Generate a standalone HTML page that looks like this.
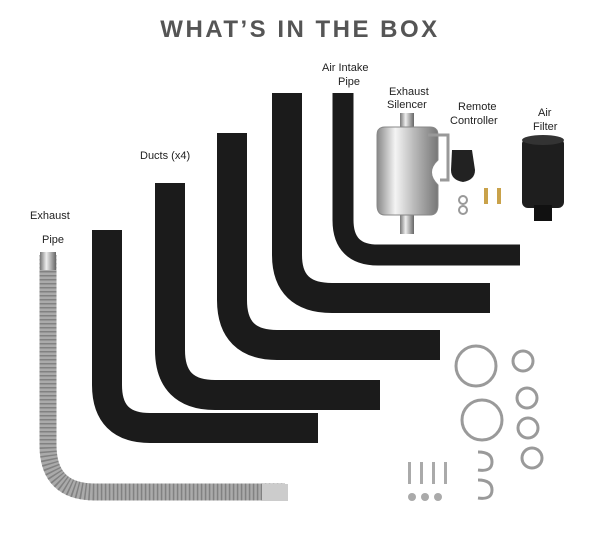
<!DOCTYPE html>
<html><head><style>
body{margin:0;background:#fff;width:600px;height:533px;overflow:hidden;font-family:"Liberation Sans",sans-serif}
svg{display:block}
</style></head><body>
<svg width="600" height="533" viewBox="0 0 600 533">
<defs>
<linearGradient id="met" x1="0" x2="1"><stop offset="0" stop-color="#777"/><stop offset=".4" stop-color="#eee"/><stop offset=".7" stop-color="#aaa"/><stop offset="1" stop-color="#666"/></linearGradient>
<linearGradient id="sil" x1="0" x2="1"><stop offset="0" stop-color="#888"/><stop offset=".3" stop-color="#f4f4f4"/><stop offset=".6" stop-color="#bbb"/><stop offset="1" stop-color="#777"/></linearGradient>
</defs>
<text x="300" y="37" text-anchor="middle" font-size="24" font-weight="bold" fill="#555" letter-spacing="2.5">WHAT’S IN THE BOX</text>
<g font-size="11" fill="#222">
<text x="30" y="219">Exhaust</text><text x="42" y="243">Pipe</text>
<text x="140" y="159">Ducts (x4)</text>
<text x="322" y="71">Air Intake</text><text x="338" y="85">Pipe</text>
<text x="389" y="95">Exhaust</text><text x="387" y="108">Silencer</text>
<text x="458" y="110">Remote</text><text x="450" y="124">Controller</text>
<text x="538" y="116">Air</text><text x="533" y="130">Filter</text>
</g>
<!-- exhaust pipe -->
<path d="M48 255 V445 Q48 492 95 492 H285" fill="none" stroke="#aaa" stroke-width="17"/>
<path d="M48 255 V445 Q48 492 95 492 H285" fill="none" stroke="#666" stroke-width="17" stroke-dasharray="1.5 2.5" opacity=".6"/>
<rect x="40" y="252" width="16" height="18" fill="url(#met)"/>
<rect x="262" y="484" width="26" height="17" fill="#ccc"/>
<!-- ducts -->
<g fill="none" stroke="#1b1b1b" stroke-width="30">
<path d="M107 230 V385 Q107 428 150 428 H318"/>
<path d="M170 183 V350 Q170 395 215 395 H380"/>
<path d="M232 133 V300 Q232 345 277 345 H440"/>
<path d="M287 93 V255 Q287 298 332 298 H490"/>
</g>
<path d="M343 93 V220 Q343 255 378 255 H520" fill="none" stroke="#1b1b1b" stroke-width="21"/>
<!-- silencer -->
<rect x="400" y="113" width="14" height="20" fill="url(#met)"/>
<rect x="400" y="212" width="14" height="22" fill="url(#met)"/>
<path d="M377 135 Q377 127 385 127 H430 Q438 127 438 135 V160 Q425 172 438 185 V205 Q438 215 430 215 H385 Q377 215 377 205 Z" fill="url(#sil)" stroke="#888"/>
<path d="M428 135 H448 V180 H440" fill="none" stroke="#999" stroke-width="3"/>
<!-- remote -->
<path d="M452 150 h20 l3 20 q0 10 -12 12 q-12 -2 -12 -12 z" fill="#222"/>
<circle cx="463" cy="200" r="4" fill="none" stroke="#999" stroke-width="2"/>
<circle cx="463" cy="210" r="4" fill="none" stroke="#999" stroke-width="2"/>
<rect x="484" y="188" width="4" height="16" fill="#c9a24a"/><rect x="497" y="188" width="4" height="16" fill="#c9a24a"/>
<!-- air filter -->
<rect x="522" y="138" width="42" height="70" rx="6" fill="#1e1e1e"/>
<rect x="534" y="205" width="18" height="16" fill="#111"/>
<ellipse cx="543" cy="140" rx="21" ry="5" fill="#333"/>
<!-- clamps -->
<g fill="none" stroke="#9a9a9a" stroke-width="3">
<circle cx="476" cy="366" r="20"/><circle cx="482" cy="420" r="20"/>
<circle cx="523" cy="361" r="10"/><circle cx="527" cy="398" r="10"/>
<circle cx="528" cy="428" r="10"/><circle cx="532" cy="458" r="10"/>
<path d="M478 452 q14 0 14 10 q0 10 -14 8"/><path d="M478 480 q14 0 14 10 q0 10 -14 8"/>
</g>
<g fill="#aaa">
<rect x="408" y="462" width="3" height="22"/><rect x="420" y="462" width="3" height="22"/><rect x="432" y="462" width="3" height="22"/><rect x="444" y="462" width="3" height="22"/>
<circle cx="412" cy="497" r="4"/><circle cx="425" cy="497" r="4"/><circle cx="438" cy="497" r="4"/>
</g>
</svg>
</body></html>
